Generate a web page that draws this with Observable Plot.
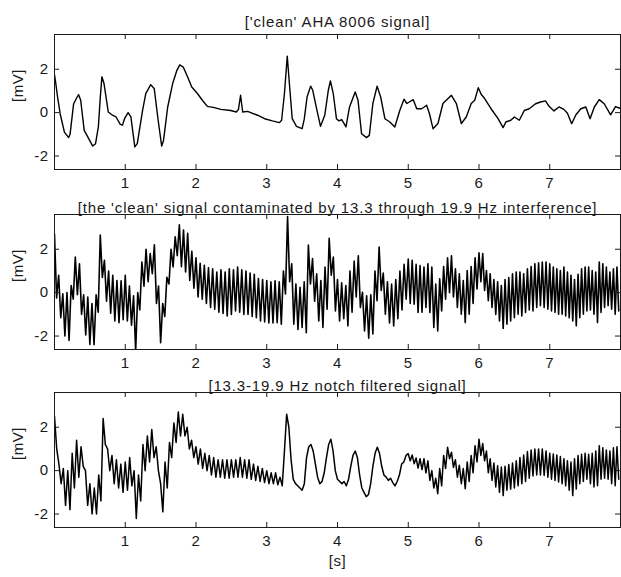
<!DOCTYPE html>
<html><head><meta charset="utf-8">
<script src="https://cdn.jsdelivr.net/npm/d3@7"></script>
<script src="https://cdn.jsdelivr.net/npm/@observablehq/plot@0.6"></script>
<style>
body{margin:0;background:#fff;}
#chart{width:621px;height:577px;position:relative;overflow:hidden;background:#fff;}
#chart svg{display:block;}
</style></head><body><div id="chart"></div>
<script>
// ---- text ----
const titles = [
  "['clean' AHA 8006 signal]",
  "[the 'clean' signal contaminated by 13.3 through 19.9 Hz interference]",
  "[13.3-19.9 Hz notch filtered signal]"
];
const xLabel = "[s]";
const yLabel = "[mV]";
const xTicks = [1, 2, 3, 4, 5, 6, 7];
const yTicks = [-2, 0, 2];

// ---- panel 1: clean signal, read-off vertices (s, mV) ----
const cleanT = [0,0.02,0.04,0.08,0.14,0.2,0.22,0.27,0.32,0.34,0.37,0.42,0.47,0.54,0.58,0.62,0.645,0.67,0.7,0.76,
  0.82,0.87,0.93,0.96,0.99,1.04,1.08,1.135,1.17,1.245,1.29,1.36,1.41,1.465,1.515,1.54,1.6,1.67,1.73,1.77,
  1.82,1.88,1.94,2.02,2.09,2.16,2.26,2.35,2.49,2.57,2.6,2.63,2.66,2.73,2.87,2.97,3.08,3.18,3.21,3.25,
  3.29,3.32,3.36,3.42,3.5,3.53,3.57,3.62,3.65,3.71,3.76,3.82,3.87,3.9,3.94,3.985,4.02,4.06,4.12,4.17,
  4.25,4.29,4.34,4.41,4.45,4.5,4.56,4.61,4.67,4.74,4.81,4.88,4.94,4.98,5.07,5.12,5.19,5.26,5.3,5.35,
  5.42,5.49,5.61,5.68,5.75,5.82,5.89,5.94,5.99,6.03,6.08,6.17,6.27,6.34,6.38,6.45,6.5,6.57,6.64,6.71,
  6.8,6.87,6.94,6.99,7.06,7.13,7.2,7.25,7.31,7.37,7.44,7.51,7.57,7.63,7.7,7.77,7.86,7.93,7.99];
const cleanV = [1.75,1.3,0.8,-0.05,-0.9,-1.15,-1.0,0.4,0.72,0.83,0.57,-0.82,-1.12,-1.54,-1.43,-0.66,0.6,1.65,1.34,0.03,
  -0.12,-0.2,-0.54,-0.58,-0.28,0.0,-0.2,-1.58,-1.43,0.1,0.88,1.29,1.1,-0.35,-1.54,-1.3,0.26,1.34,1.95,2.2,
  2.1,1.65,1.18,0.88,0.57,0.29,0.23,0.15,0.1,0.03,0.15,0.8,0.03,0.06,-0.12,-0.28,-0.38,-0.46,-0.35,0.88,
  2.6,1.34,-0.28,-0.63,-0.74,-0.3,0.72,1.22,1.03,0.1,-0.63,-0.12,1.03,1.46,0.88,-0.28,-0.38,-0.32,-0.66,0.26,
  0.95,0.57,-0.97,-1.15,-1.05,0.42,1.22,0.72,-0.28,-0.43,-0.66,0.1,0.62,0.42,0.6,0.18,0.18,0.34,-0.05,-0.74,
  -0.5,0.42,0.8,0.42,-0.5,-0.2,0.42,0.57,1.15,0.85,0.65,0.18,-0.28,-0.69,-0.43,-0.35,-0.2,-0.35,0.1,0.18,
  0.41,0.49,0.54,0.29,0.08,0.26,0.15,-0.03,-0.51,-0.1,0.18,0.26,-0.28,0.26,0.6,0.41,-0.1,0.28,0.2];

// ---- panels 2 & 3: zig-zag vertices (mV), one row per second, read evenly across that second ----
const contaminatedRows = [
  [2.7,-0.25, 0.8,-1.15, -0.05,-2.0, 0.0,-2.2, 0.33,-0.3, 1.64,-0.1, 1.33,-1.0, -0.1,-1.95, -0.2,-2.39, -0.5,-2.4, -0.1,-0.9, 2.65,0.7, 1.49,-0.4, 1.0,-0.95, 0.8,-1.3, 0.56,-1.38, 0.55,-1.25],
  [0.8,-1.3, 0.3,-1.5, -0.15,-2.7, 0.0,-0.8, 1.41,0.3, 2.0,0.5, 1.8,0.87, 2.2,-0.5, 0.3,-2.31, -0.5,-1.1, 0.71,0.4, 2.0,1.18, 2.57,1.7, 3.12,1.2, 2.88,0.95, 2.73,0.56, 1.9,0.2],
  [1.6,-0.2, 1.35,-0.3, 1.26,-0.5, 1.15,-0.68, 1.1,-0.76, 0.95,-0.9, 1.05,-0.96, 0.95,-1.07, 1.1,-1.0, 1.05,-0.84, 1.18,-0.9, 1.05,-1.0, 1.0,-1.0, 0.9,-1.1, 0.85,-1.15, 0.65,-1.3, 0.6,-1.35],
  [0.56,-1.4, 0.5,-1.4, 0.55,-1.38, 0.5,-1.45, 1.0,-0.06, 3.5,0.5, 1.33,-1.46, 0.4,-1.7, 0.25,-1.6, 0.5,-1.85, 2.19,0.4, 1.57,-0.4, 0.87,-1.3, 0.56,-1.6, 1.18,-0.76, 2.5,0.8, 1.64,-0.84],
  [0.6,-1.3, 0.45,-1.2, 0.33,-1.53, 1.0,-0.9, 1.45,-0.2, 1.7,-0.68, 0.02,-1.77, -0.15,-2.1, -0.1,-1.9, 1.0,-0.37, 2.1,0.1, 0.9,-0.99, 0.5,-1.4, 0.4,-1.53, 0.6,-1.2, 1.0,-0.8, 1.3,-0.3],
  [1.55,-0.5, 1.49,-0.53, 1.3,-0.91, 1.25,-0.9, 1.18,-0.68, 1.33,-0.91, 1.18,-1.6, 0.4,-1.77, 0.64,-0.84, 1.2,-0.3, 1.6,0.0, 1.7,-0.2, 1.1,-0.68, 0.87,-0.99, 0.56,-1.38, 1.02,-0.99, 1.2,-0.5, 1.6,0.17],
  [1.83,0.5, 1.8,0.1, 1.02,-0.37, 0.87,-0.68, 0.6,-1.0, 0.5,-1.3, 0.33,-1.65, 0.6,-1.46, 0.7,-1.3, 0.87,-1.15, 0.95,-0.99, 0.95,-1.07, 0.87,-0.91, 1.1,-0.8, 1.2,-0.84, 1.33,-0.68, 1.38,-0.6, 1.41,-0.68, 1.41,-0.76],
  [1.33,-0.84, 1.18,-0.91, 1.1,-0.99, 1.02,-0.99, 1.18,-1.07, 0.95,-1.15, 0.8,-1.3, 0.6,-1.53, 0.85,-1.15, 1.1,-0.99, 1.18,-0.84, 1.18,-0.8, 1.02,-0.99, 0.95,-1.38, 1.41,-0.91, 1.33,-0.68, 1.18,-0.6, 0.95,-0.76, 1.1,-0.99, 1.18,-0.84]
];
const filteredRows = [
  [2.5,1.0, 0.3,-0.6, 0.1,-1.6, 0.0,-1.8, 0.8,-0.8, 1.4,-0.3, 1.1,0.2, 0.0,-1.6, -0.6,-2.0, -0.8,-2.0, -0.2,-1.4, 2.4,1.2, 1.0,0.0, 0.7,-0.6, 0.5,-0.8, 0.3,-1.0],
  [0.4,-0.9, 0.6,-0.7, 0.0,-2.2, -0.2,-1.4, 1.2,0.0, 1.6,0.4, 1.9,0.6, 1.1,0.0, -0.6,-1.9, 0.4,-0.8, 1.3,0.6, 2.2,1.3, 2.7,1.6, 2.6,1.6, 2.0,1.0, 1.4,0.6],
  [1.1,0.3, 1.0,0.1, 0.8,0.0, 0.7,-0.2, 0.6,-0.3, 0.5,-0.3, 0.5,-0.35, 0.5,-0.35, 0.5,-0.3, 0.5,-0.3, 0.6,-0.3, 0.5,-0.35, 0.5,-0.4, 0.3,-0.45, 0.2,-0.5, 0.1,-0.55],
  [0.0,-0.6, -0.1,-0.6, -0.1,-0.65, -0.3,-0.7, 0.9,2.6, 2.0,0.5, -0.4,-0.6, -0.7,-0.8, -0.9,-0.6, 0.6,1.1, 1.2,0.9, 0.3,-0.3, -0.6,-0.5, -0.1,0.6, 1.2,1.45, 0.9,0.0],
  [-0.4,-0.5, -0.6,-0.5, -0.7,-0.4, 0.2,0.7, 0.9,0.6, -0.2,-0.8, -1.0,-1.2, -1.1,-0.6, 0.2,0.8, 1.08,0.8, 0.2,-0.2, -0.3,-0.45, -0.35,-0.55, -0.7,-0.5, -0.2,0.3, 0.4,0.7],
  [0.78,0.45, 0.72,0.32, 0.58,0.12, 0.55,0.05, 0.55,-0.1, 0.45,-0.45, 0.0,-0.8, -0.35,-1.06, 0.1,-0.7, 0.7,0.1, 1.08,0.55, 0.85,0.15, 0.5,-0.3, 0.25,-0.6, 0.1,-0.83, 0.4,-0.5, 0.7,-0.1, 1.15,0.4],
  [1.45,0.7, 1.25,0.45, 0.9,-0.1, 0.55,-0.45, 0.35,-0.75, 0.22,-1.0, 0.17,-1.15, 0.2,-0.9, 0.28,-0.85, 0.35,-0.8, 0.45,-0.7, 0.6,-0.6, 0.72,-0.5, 0.88,-0.35, 0.95,-0.25, 1.0,-0.2, 1.0,-0.2, 1.0,-0.22, 0.9,-0.3],
  [0.8,-0.4, 0.77,-0.45, 0.72,-0.52, 0.65,-0.6, 0.55,-0.7, 0.45,-0.9, 0.4,-1.15, 0.55,-0.85, 0.7,-0.6, 0.75,-0.5, 0.8,-0.4, 0.75,-0.6, 0.8,-0.75, 0.9,-0.7, 1.15,-0.4, 1.05,-0.35, 0.95,-0.4, 0.9,-0.6, 1.05,-0.7, 1.1,-0.4]
];

// ---- build series ----
const cleanData = cleanT.map((t, i) => ({t, v: cleanV[i]}));
const fromRows = rows => rows.flatMap((row, s) => row.map((v, j) => ({t: s + j / row.length, v})));
const contaminatedData = fromRows(contaminatedRows);
const filteredData = fromRows(filteredRows);

const FONT = "'Liberation Sans', Arial, Helvetica, sans-serif";
const W = 621, ML = 54, MR = 1, PH = 135, TL = 5;
const PW = W - ML - MR;
const INK = "#1a1a1a";

function panel(data, title, titleDy, mt, mb, showX, lw) {
  const marks = [
    Plot.line(data, {x: "t", y: "v", stroke: "#000", strokeWidth: lw, clip: true}),
    Plot.frame({stroke: INK, strokeWidth: 1}),
    Plot.tickX(xTicks, {x: d => d, insetTop: PH - TL, stroke: INK}),
    Plot.tickX(xTicks, {x: d => d, insetBottom: PH - TL, stroke: INK}),
    Plot.tickY(yTicks, {y: d => d, insetRight: PW - TL, stroke: INK}),
    Plot.tickY(yTicks, {y: d => d, insetLeft: PW - TL, stroke: INK}),
    Plot.axisX(xTicks, {tickSize: 0, tickPadding: 8, label: null, fill: INK, fontSize: 15}),
    Plot.axisY(yTicks, {tickSize: 0, tickPadding: 6, label: null, fill: INK, fontSize: 15, tickFormat: d => String(d)}),
    Plot.text([title], {text: d => d, frameAnchor: "top", dy: titleDy, fontSize: 15, fill: INK}),
    Plot.text([yLabel], {text: d => d, frameAnchor: "left", dx: -36, rotate: -90, fontSize: 15, fill: INK})
  ];
  if (showX) marks.push(Plot.text([xLabel], {text: d => d, frameAnchor: "bottom", dy: 38, fontSize: 15, fill: INK}));
  const svg = Plot.plot({
    width: W, height: mt + PH + mb,
    marginLeft: ML, marginRight: MR, marginTop: mt, marginBottom: mb,
    x: {domain: [0, 8]},
    y: {domain: [-2.62, 3.6]},
    style: {fontFamily: FONT, fontSize: "15px", letterSpacing: "0.5px", background: "transparent", overflow: "visible", color: INK},
    marks
  });
  svg.querySelectorAll("text").forEach(t => { if (t.textContent === title) t.style.letterSpacing = "0.85px"; });
  return svg;
}

const root = document.getElementById("chart");
root.append(panel(cleanData, titles[0], -18.2, 34, 21, false, 1.4));
root.append(panel(contaminatedData, titles[1], -12.5, 24, 22, false, 1.6));
root.append(panel(filteredData, titles[2], -12.5, 21, 50, true, 1.5));
</script></body></html>
